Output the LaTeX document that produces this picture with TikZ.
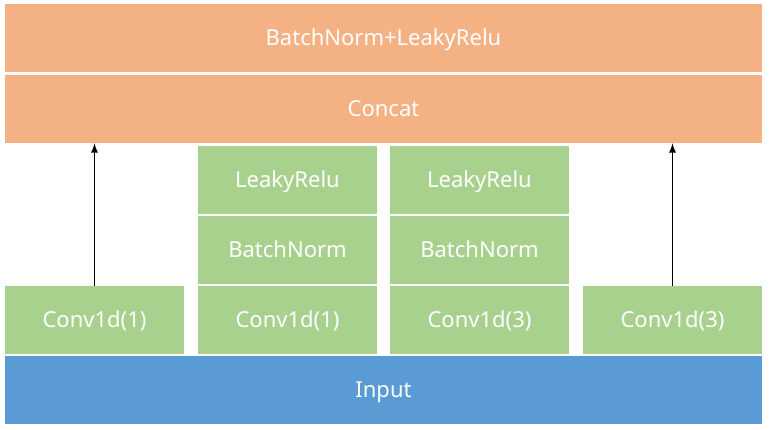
\documentclass[tikz,border=0pt]{standalone}
\usepackage{fontspec}
\setmainfont{Noto Sans}
\usetikzlibrary{arrows,shapes}
\definecolor{normorange}{HTML}{F4B183}
\definecolor{convgreen}{HTML}{A9D18E}
\definecolor{inputblue}{HTML}{5B9BD5}
\tikzstyle{widebar}=[rectangle,fill=normorange,minimum width=567.75pt,minimum height=51pt,inner sep=0pt,text=white,text height=1.26em,text depth=0.12em,font=\fontsize{16.5}{20}\selectfont]
\tikzstyle{layer}=[rectangle,fill=convgreen,minimum width=134.25pt,minimum height=51pt,inner sep=0pt,text=white,text height=1.26em,text depth=0.12em,font=\fontsize{16.5}{20}\selectfont]
\tikzstyle{edge} = [draw,line width=1.4pt,->,>=latex]

\begin{document}
\begin{tikzpicture}[x=0.75pt,y=-0.75pt]
    \useasboundingbox (0,0) rectangle (770,429);
    % Top bars
    \node[widebar] (bnrelu) at (383.5,38) {BatchNorm+LeakyRelu};
    \node[widebar] (concat) at (383.5,109) {Concat};
    % Bottom bar
    \node[widebar, fill=inputblue] (input) at (383.5,390) {Input};
    % The four conv layers
    \foreach \pos/\name/\label in {{(94.5,320)/conva/Conv1d(1)}, {(287.5,320)/convb/Conv1d(1)},
                            {(479.5,320)/convc/Conv1d(3)}, {(672.5,320)/convd/Conv1d(3)}}
        \node[layer] (\name) at \pos {\label};
    % Norm and activation on the middle branches
    \foreach \x/\name in {287.5/b, 479.5/c}{
        \node[layer] (bn\name) at (\x,250) {BatchNorm};
        \node[layer] (relu\name) at (\x,179.5) {LeakyRelu};
    }
    % Skip arrows on the outer branches
    \foreach \source in {conva, convd}
        \path[edge] (\source.north) -- (\source.north |- concat.south);
\end{tikzpicture}
\end{document}
